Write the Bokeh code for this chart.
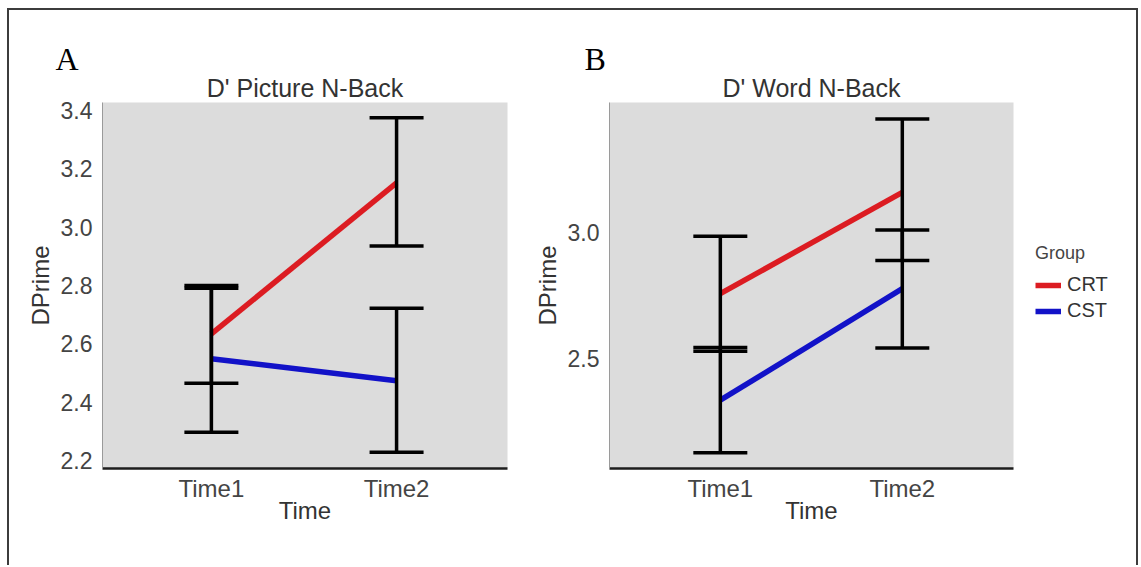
from bokeh.plotting import figure
from bokeh.models import (ColumnDataSource, Whisker, TeeHead, FixedTicker,
                          PrintfTickFormatter, Range1d, Title, Legend, LegendItem)
from bokeh.layouts import row
from bokeh.embed import file_html
from bokeh.resources import INLINE

# ---------------- data ----------------
time_values = [1, 2]
time_labels = ["Time1", "Time2"]
groups = ["CRT", "CST"]

# Panel A: D' Picture N-Back
pic_crt_mean = [2.634, 3.152]
pic_crt_lower = [2.465, 2.935]
pic_crt_upper = [2.800, 3.375]
pic_cst_mean = [2.549, 2.474]
pic_cst_lower = [2.297, 2.229]
pic_cst_upper = [2.791, 2.722]
pic_yticks = [2.2, 2.4, 2.6, 2.8, 3.0, 3.2, 3.4]

# Panel B: D' Word N-Back
word_crt_mean = [2.757, 3.158]
word_crt_lower = [2.530, 2.888]
word_crt_upper = [2.984, 3.448]
word_cst_mean = [2.336, 2.777]
word_cst_lower = [2.128, 2.542]
word_cst_upper = [2.544, 3.009]
word_yticks = [2.5, 3.0]

RED = "#dc1c22"
BLUE = "#1212c8"
FONT = "Liberation Sans"
H = 555


def make_panel(title, letter, letter_dx, series, y_range, x_range, y_ticks,
               width, mbl, mbr):
    p = figure(width=width, height=H, output_backend="svg", toolbar_location=None,
               x_range=Range1d(*x_range), y_range=Range1d(*y_range),
               min_border_left=mbl, min_border_right=mbr,
               min_border_top=92, min_border_bottom=H - 92 - 366,
               background_fill_color="#dcdcdc", border_fill_color="white",
               outline_line_color=None)
    # panel letter (outermost title)
    p.title.text = letter
    p.title.align = "left"
    p.title.offset = letter_dx
    p.title.text_font = "Liberation Serif"
    p.title.text_font_size = "32px"
    p.title.text_font_style = "normal"
    p.title.text_color = "black"
    p.title.standoff = -12

    # chart title (closest to the frame)
    p.add_layout(Title(text=title, align="center", text_font=FONT,
                       text_font_size="25px", text_font_style="normal",
                       text_color="#333333", standoff=2),
                 "above")

    p.xgrid.visible = False
    p.ygrid.visible = False

    p.xaxis.ticker = FixedTicker(ticks=time_values)
    p.xaxis.major_label_overrides = {t: l for t, l in zip(time_values, time_labels)}
    p.xaxis.axis_label = "Time"
    p.yaxis.axis_label = "DPrime"
    p.yaxis.ticker = FixedTicker(ticks=y_ticks)
    p.yaxis.formatter = PrintfTickFormatter(format="%.1f")

    p.axis.major_tick_line_color = None
    p.axis.minor_tick_line_color = None
    p.axis.major_label_text_font = FONT
    p.axis.major_label_text_color = "#444444"
    p.axis.axis_label_text_font = FONT
    p.axis.axis_label_text_font_style = "normal"
    p.axis.axis_label_text_color = "#333333"
    p.axis.axis_label_text_font_size = "24px"
    p.xaxis.major_label_text_font_size = "24px"
    p.yaxis.major_label_text_font_size = "23px"
    p.xaxis.major_label_standoff = 0
    p.yaxis.major_label_standoff = 4
    p.xaxis.axis_label_standoff = -8
    p.yaxis.axis_label_standoff = 4

    p.xaxis.axis_line_color = "#1e1e1e"
    p.xaxis.axis_line_width = 2.5
    p.yaxis.axis_line_color = "#9a9a9a"
    p.yaxis.axis_line_width = 1

    for (mean, lo, hi), color in zip(series, [RED, BLUE]):
        p.line(time_values, mean, line_color=color, line_width=5.5)
    for (mean, lo, hi) in series:
        src = ColumnDataSource(dict(x=time_values, lo=lo, hi=hi))
        w = Whisker(base="x", lower="lo", upper="hi", source=src,
                    line_color="black", line_width=3.5, level="annotation",
                    upper_head=TeeHead(size=54, line_width=3.5, line_color="black"),
                    lower_head=TeeHead(size=54, line_width=3.5, line_color="black"))
        p.add_layout(w)
    return p


pA = make_panel("D' Picture N-Back", "A", -47,
                [(pic_crt_mean, pic_crt_lower, pic_crt_upper),
                 (pic_cst_mean, pic_cst_lower, pic_cst_upper)],
                (2.173, 3.427), (0.412, 2.599), pic_yticks,
                width=515, mbl=93, mbr=17)

pB = make_panel("D' Word N-Back", "B", -25,
                [(word_crt_mean, word_crt_lower, word_crt_upper),
                 (word_cst_mean, word_cst_lower, word_cst_upper)],
                (2.066, 3.513), (0.391, 2.611), word_yticks,
                width=500, mbl=85, mbr=11)

# legend panel (swatch renderers sit outside the visible range)
pL = figure(width=112, height=H, output_backend="svg", toolbar_location=None,
            x_range=Range1d(0, 1), y_range=Range1d(0, 1),
            x_axis_type=None, y_axis_type=None, min_border=0,
            outline_line_color=None, background_fill_color="white",
            border_fill_color="white")
leg_renderers = [pL.line([-10, -9], [-10, -9], line_color=c, line_width=5.5)
                 for c in [RED, BLUE]]
legend = Legend(items=[LegendItem(label=g, renderers=[r])
                       for g, r in zip(groups, leg_renderers)],
                title="Group", location=(11, 146),
                title_text_font=FONT, title_text_font_size="18px",
                title_text_font_style="normal", title_text_color="#444444",
                label_text_font=FONT, label_text_font_size="20px",
                label_text_color="#333333",
                glyph_width=26, glyph_height=20, label_height=20,
                spacing=3, label_standoff=6, title_standoff=9,
                padding=2, margin=0,
                border_line_color=None, background_fill_alpha=0)
pL.add_layout(legend)

layout = row(pA, pB, pL, styles={"margin-left": "7px", "margin-top": "8px",
                                 "border-top": "2px solid #3c3c3c",
                                 "border-left": "2px solid #3c3c3c",
                                 "border-right": "2px solid #3c3c3c"})

open("out.html", "w").write(file_html(layout, INLINE))
